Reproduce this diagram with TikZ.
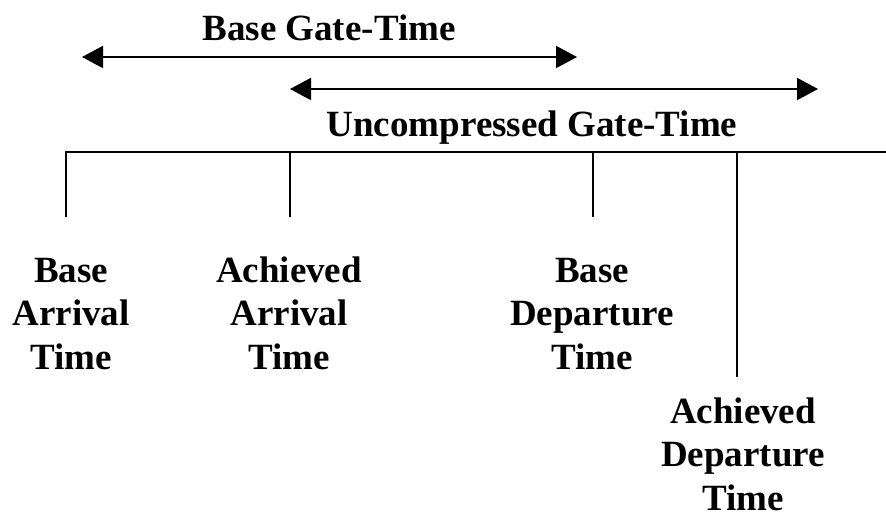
\documentclass[tikz,border=0pt]{standalone}
\usepackage{fontspec}
\setmainfont{Liberation Serif}
\usetikzlibrary{arrows.meta}

\tikzset{
  lbl/.style={font=\fontsize{37}{43.5}\selectfont\bfseries, align=center, inner sep=0pt, anchor=base},
  gatespan/.style={line width=2pt, {Triangle[length=21pt,width=22pt]}-{Triangle[length=21pt,width=22pt]}},
  timeline/.style={line width=1.6pt}
}

\begin{document}
\begin{tikzpicture}[x=1pt,y=-1pt]
\useasboundingbox (0,0) rectangle (886,515);
% spans
\node[lbl] (bgt) at (329,40) {Base Gate-Time};
\coordinate (bgl) at (82,57);
\coordinate (bgr) at (577,57);
\draw[gatespan] (bgl) -- (bgr);
\coordinate (ugl) at (290,89);
\coordinate (ugr) at (818,89);
\draw[gatespan] (ugl) -- (ugr);
\node[lbl] (ugt) at (532,136) {Uncompressed Gate-Time};
% time line and ticks
\coordinate (tend) at (886,152);
\coordinate (batop) at (66,152);
\coordinate (babot) at (66,217);
\draw[timeline] (babot) -- (batop) -- (tend);
\foreach \n/\x/\y in {aa/290/217, bd/593/217, ad/737/377} {
  \coordinate (\n top) at (\x,152);
  \coordinate (\n bot) at (\x,\y);
  \draw[timeline] (\n top) -- (\n bot);
}
% labels (base = last line)
\node[lbl] (bat) at (71,369) {Base\\Arrival\\Time};
\node[lbl] (aat) at (289,369) {Achieved\\Arrival\\Time};
\node[lbl] (bdt) at (592,369) {Base\\Departure\\Time};
\node[lbl] (adt) at (743,510) {Achieved\\Departure\\Time};
\end{tikzpicture}
\end{document}
